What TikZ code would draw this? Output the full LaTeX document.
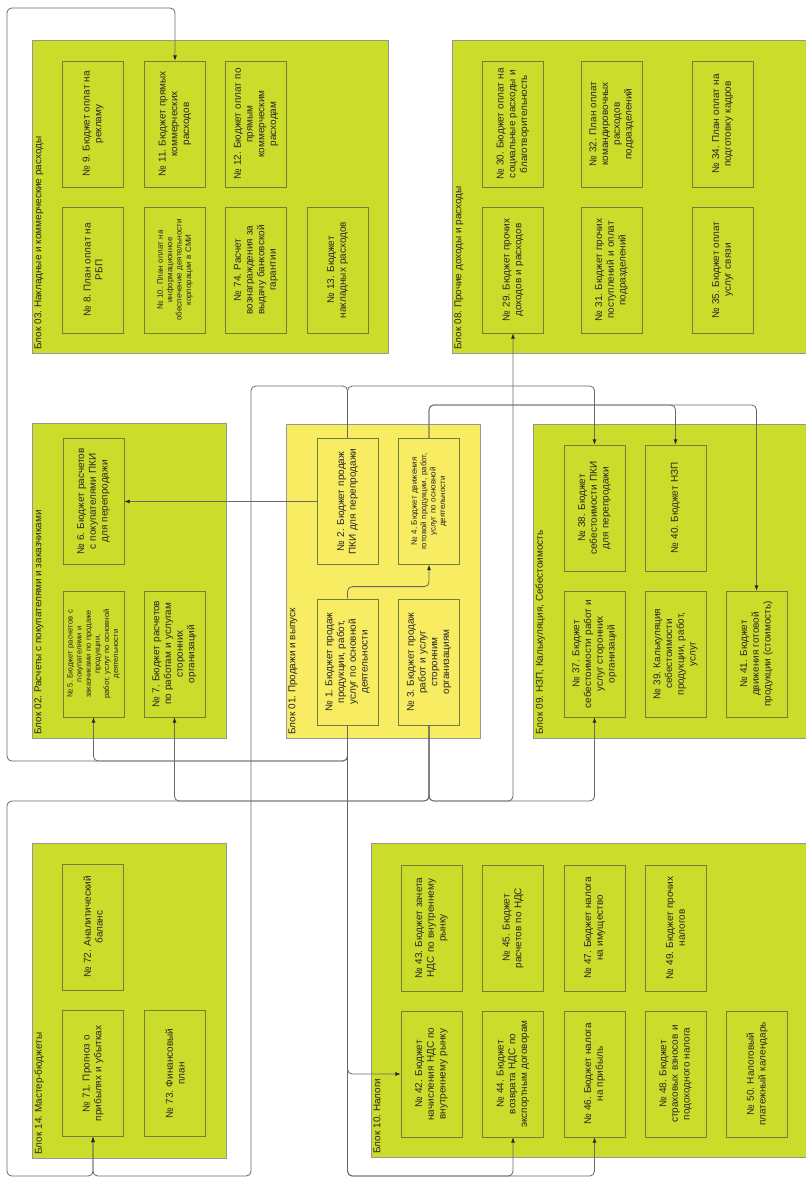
\documentclass[tikz,border=0pt]{standalone}
\usepackage{fontspec}
\setmainfont{Liberation Sans}
\usetikzlibrary{arrows.meta}
\frenchspacing

\definecolor{blokgreen}{RGB}{204,220,42}
\definecolor{blokyellow}{RGB}{247,236,98}
\definecolor{boxline}{RGB}{110,128,58}
\definecolor{blokline}{RGB}{150,150,150}
\definecolor{connline}{RGB}{105,105,105}

\begin{document}
\begin{tikzpicture}[
            x = 0.03cm, y = -0.03cm, % one unit = one pixel of the scheme
            > = {Latex[length=4.5pt, width=3.5pt, color=black!85]}, % arrow head style
            semithick % line style
        ]

        \tikzstyle{blok}=[
            fill = blokgreen,
            draw = blokline,
            line width = 0.5pt
        ]
        \tikzstyle{box}=[
            draw = boxline,
            fill = blokgreen,
            line width = 0.6pt,
            rotate = 90,
            minimum width = 3.78cm,
            minimum height = 1.83cm,
            text width = 3.6cm,
            align = center,
            inner sep = 1pt,
            text = black!85,
            font = \fontsize{8.5}{10}\selectfont
        ]
        \tikzstyle{small}=[font = \fontsize{6.8}{8}\selectfont]
        \tikzstyle{lbl}=[
            rotate = 90,
            anchor = north west,
            inner sep = 1pt,
            text = black!85,
            font = \fontsize{8.5}{10}\selectfont
        ]
        \tikzstyle{conn}=[
            draw = connline,
            line width = 0.7pt,
            rounded corners = 4pt
        ]

        \useasboundingbox (0,0) rectangle (805,1178);

        % blocks
        \draw[blok] (32,40) rectangle (388,353);
        \draw[blok] (452,40) rectangle (812,353);
        \draw[blok] (32,423) rectangle (226,738);
        \draw[blok, fill = blokyellow] (286,424) rectangle (480,738);
        \draw[blok] (533,424) rectangle (812,738);
        \draw[blok] (32,843) rectangle (226,1158);
        \draw[blok] (371,843) rectangle (812,1157);

        \node[lbl] (L03) at (33,351) {Блок 03. Накладные и коммерческие расходы};
        \node[lbl] (L08) at (453,351) {Блок 08. Прочие доходы и расходы};
        \node[lbl] (L02) at (33,736) {Блок 02. Расчеты с покупателями и заказчиками};
        \node[lbl] (L01) at (287,736) {Блок 01. Продажи и выпуск};
        \node[lbl] (L09) at (534,736) {Блок 09. НЗП, Калькуляция, Себестоимость};
        \node[lbl] (L14) at (33,1156) {Блок 14. Мастер-бюджеты};
        \node[lbl] (L10) at (372,1155) {Блок 10. Налоги};

        % Блок 03
        \node[box] (b9) at (93,124) {№ 9. Бюджет оплат на\\ рекламу};
        \node[box] (b11) at (175,124) {№ 11. Бюджет прямых\\ коммерческих\\ расходов};
        \node[box] (b12) at (256,124) {№ 12. Бюджет оплат по\\ прямым\\ коммерческим\\ расходам};
        \node[box] (b8) at (93,270) {№ 8. План оплат на\\ РБП};
        \node[box, small] (b10) at (175,270) {№ 10. План оплат на\\ информационное\\ обеспечение деятельности\\ корпорации в СМИ};
        \node[box] (b74) at (256,270) {№ 74. Расчет\\ вознаграждения за\\ выдачу банковской\\ гарантии};
        \node[box] (b13) at (337.5,270) {№ 13. Бюджет\\ накладных расходов};

        % Блок 08
        \node[box] (b30) at (513,124) {№ 30. Бюджет оплат на\\ социальные расходы и\\ благотворительность};
        \node[box] (b32) at (611.5,124) {№ 32. План оплат\\ командировочных\\ расходов\\ подразделений};
        \node[box] (b34) at (722.5,124) {№ 34. План оплат на\\ подготовку кадров};
        \node[box] (b29) at (513,270) {№ 29. Бюджет прочих\\ доходов и расходов};
        \node[box] (b31) at (611.5,270) {№ 31. Бюджет прочих\\ поступлений и оплат\\ подразделений};
        \node[box] (b35) at (722.5,270) {№ 35. Бюджет оплат\\ услуг связи};

        % Блок 02
        \node[box] (b6) at (93.5,501.5) {№ 6. Бюджет расчетов\\ с покупателями ПКИ\\ для перепродажи};
        \node[box, font = \fontsize{6.5}{7.8}\selectfont] (b5) at (93.5,654) {№ 5. Бюджет расчетов с\\ покупателями и\\ заказчиками по продаже\\ продукции,\\ работ, услуг по основной\\ деятельности};
        \node[box] (b7) at (174.5,654) {№ 7. Бюджет расчетов\\ по работам и услугам\\ сторонних\\ организаций};

        % Блок 01
        \node[box, fill = blokyellow] (b2) at (347.5,501.5) {№ 2. Бюджет продаж\\ ПКИ для перепродажи};
        \node[box, fill = blokyellow, small] (b4) at (429,501.5) {№ 4. Бюджет движения\\ готовой продукции, работ,\\ услуг по основной\\ деятельности};
        \node[box, fill = blokyellow] (b1) at (347.5,662) {№ 1. Бюджет продаж\\ продукции, работ,\\ услуг по основной\\ деятельности};
        \node[box, fill = blokyellow] (b3) at (429,662) {№ 3. Бюджет продаж\\ работ и услуг\\ сторонним\\ организациям};

        % Блок 09
        \node[box] (b38) at (594.5,508) {№ 38. Бюджет\\ себестоимости ПКИ\\ для перепродажи};
        \node[box] (b40) at (675.5,508) {№ 40. Бюджет НЗП};
        \node[box] (b37) at (594.5,654) {№ 37. Бюджет\\ себестоимости работ и\\ услуг сторонних\\ организаций};
        \node[box] (b39) at (675.5,654) {№ 39. Калькуляция\\ себестоимости\\ продукции, работ,\\ услуг};
        \node[box] (b41) at (756.5,654) {№ 41. Бюджет\\ движения готовой\\ продукции (стоимость)};

        % Блок 14
        \node[box] (b72) at (93,927) {№ 72. Аналитический\\ баланс};
        \node[box] (b71) at (93,1073.5) {№ 71. Прогноз о\\ прибылях и убытках};
        \node[box] (b73) at (175,1073.5) {№ 73. Финансовый\\ план};

        % Блок 10
        \node[box] (b43) at (431.5,928) {№ 43. Бюджет зачета\\ НДС по внутреннему\\ рынку};
        \node[box] (b45) at (513,928) {№ 45. Бюджет\\ расчетов по НДС};
        \node[box] (b47) at (594.5,928) {№ 47. Бюджет налога\\ на имущество};
        \node[box] (b49) at (675.5,928) {№ 49. Бюджет прочих\\ налогов};
        \node[box] (b42) at (431.5,1074) {№ 42. Бюджет\\ начисления НДС по\\ внутреннему рынку};
        \node[box] (b44) at (513,1074) {№ 44. Бюджет\\ возврата НДС по\\ экспортным договорам};
        \node[box] (b46) at (594.5,1074) {№ 46. Бюджет налога\\ на прибыль};
        \node[box] (b48) at (675.5,1074) {№ 48. Бюджет\\ страховых взносов и\\ подоходного налога};
        \node[box] (b50) at (757,1074) {№ 50. Налоговый\\ платежный календарь};

        % bus levels
        \coordinate (busT) at (0,386);
        \coordinate (busU) at (0,405);
        \coordinate (busA) at (0,761);
        \coordinate (busB) at (0,801);
        \coordinate (busE) at (0,1176);

        % from №1
        \draw[conn, ->] (b1.west) |- (7,761) -- (7,8) -| (b11.east);
        \draw[conn, ->] (b1.west) |- (b5.west |- busA) -- (b5.west);
        \draw[conn, ->] (b1.west) |- (b42.north);
        \draw[conn, ->] (b1.west) |- (b44.west |- busE) -- (b44.west);
        \draw[conn, ->] (b1.west) |- (b46.west |- busE) -- (b46.west);
        \draw[conn, ->] (b1.east) -- ++(0,-12) -| (b4.west);

        % from №2
        \draw[conn, ->] (b2.north) -- (b6.south);
        \draw[conn, ->] (b2.east) |- (b38.east |- busT) -- (b38.east);
        \draw[conn, ->] (b2.east) |- (251,386) -- (251,1176) -| (b71.west);

        % from №3
        \draw[conn, ->] (b3.west) |- (b7.west |- busB) -- (b7.west);
        \draw[conn, ->] (b3.west) |- (7,801) -- (7,1176) -| (b71.west);
        \draw[conn, ->] (b3.west) |- (b29.west |- busB) -- (b29.west);
        \draw[conn, ->] (b3.west) |- (b37.west |- busB) -- (b37.west);

        % from №4
        \draw[conn, ->] (b4.east) |- (b40.east |- busU) -- (b40.east);
        \draw[conn, ->] (b4.east) |- (b41.east |- busU) -- (b41.east);
    \end{tikzpicture}
\end{document}
